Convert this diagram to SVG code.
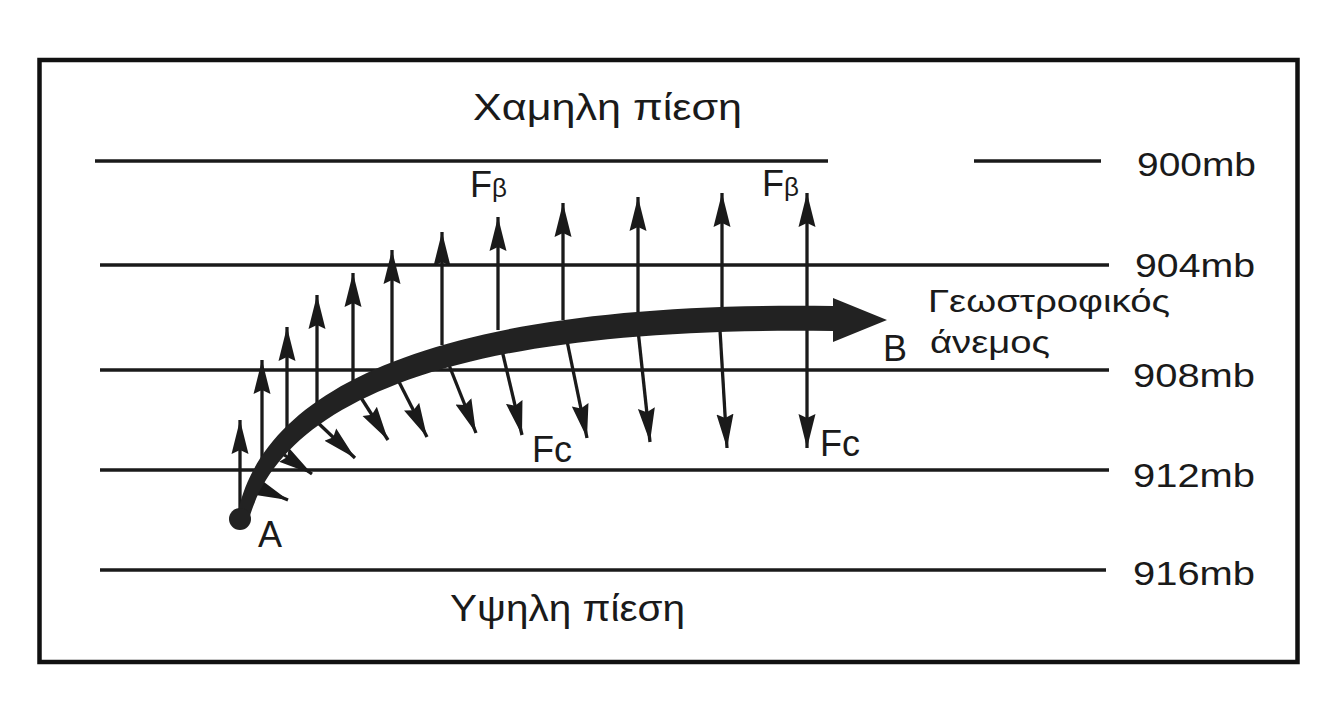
<svg xmlns="http://www.w3.org/2000/svg" width="1323" height="701" viewBox="0 0 1323 701">
<style>
text{font-family:"Liberation Sans",Arial,sans-serif;fill:#1a1a1a}
.iso{stroke:#1a1a1a;stroke-width:3.5;fill:none}
.f{stroke:#1a1a1a;stroke-width:3.3;fill:none;marker-end:url(#ah)}
.lbl{font-size:34px}
.big{font-size:36px}
</style>
<defs>
<marker id="ah" markerUnits="userSpaceOnUse" markerWidth="38" markerHeight="20" refX="34" refY="9" orient="auto">
<path d="M0,0.5 L34,9 L0,17.5 L4,9 z" fill="#1a1a1a"/>
</marker>
</defs>
<rect x="0" y="0" width="1323" height="701" fill="#ffffff"/>
<rect id="frame" x="39.5" y="60" width="1258" height="602" fill="none" stroke="#111" stroke-width="4.5"/>

<g id="isobars">
<line class="iso" x1="95" y1="161" x2="828" y2="161"/>
<line class="iso" x1="974" y1="161" x2="1101" y2="161"/>
<line class="iso" x1="100" y1="265" x2="1109" y2="265"/>
<line class="iso" x1="100" y1="370" x2="1109" y2="370"/>
<line class="iso" x1="100" y1="470" x2="1109" y2="470"/>
<line class="iso" x1="100" y1="570" x2="1106" y2="570"/>
</g>

<g id="isobar-labels">
<text class="lbl" x="1137" y="176" textLength="119" lengthAdjust="spacingAndGlyphs">900mb</text>
<text class="lbl" x="1135" y="277" textLength="120" lengthAdjust="spacingAndGlyphs">904mb</text>
<text class="lbl" x="1133" y="387" textLength="122" lengthAdjust="spacingAndGlyphs">908mb</text>
<text class="lbl" x="1133" y="487" textLength="122" lengthAdjust="spacingAndGlyphs">912mb</text>
<text class="lbl" x="1133" y="585" textLength="122" lengthAdjust="spacingAndGlyphs">916mb</text>
</g>

<g id="low-pressure"><text class="big" x="473" y="120" textLength="269" lengthAdjust="spacingAndGlyphs">Χαμηλη πίεση</text></g>
<g id="high-pressure"><text class="big" x="450" y="621" textLength="235" lengthAdjust="spacingAndGlyphs">Υψηλη πίεση</text></g>

<g id="connectors">
<!-- pressure gradient force arrows (upward) -->
<line class="f" x1="240" y1="510" x2="240" y2="420"/>
<line class="f" x1="262" y1="470" x2="262" y2="360"/>
<line class="f" x1="287" y1="434" x2="287" y2="327"/>
<line class="f" x1="317" y1="408" x2="317" y2="295"/>
<line class="f" x1="353" y1="383" x2="353" y2="273"/>
<line class="f" x1="392" y1="365" x2="392" y2="250"/>
<line class="f" x1="442" y1="345" x2="442" y2="232"/>
<line class="f" x1="498" y1="330" x2="498" y2="217"/>
<line class="f" x1="563" y1="320" x2="563" y2="203"/>
<line class="f" x1="638" y1="313" x2="638" y2="197"/>
<line class="f" x1="722" y1="308" x2="722" y2="193"/>
<line class="f" x1="807" y1="308" x2="807" y2="193"/>
<!-- Coriolis force arrows (downward) -->
<line class="f" x1="250" y1="484" x2="288" y2="500"/>
<line class="f" x1="280" y1="452" x2="312" y2="474"/>
<line class="f" x1="315" y1="420" x2="355" y2="458"/>
<line class="f" x1="358" y1="393" x2="388" y2="440"/>
<line class="f" x1="396" y1="376" x2="427" y2="437"/>
<line class="f" x1="447" y1="360" x2="476" y2="433"/>
<line class="f" x1="501" y1="346" x2="522" y2="435"/>
<line class="f" x1="566" y1="336" x2="587" y2="438"/>
<line class="f" x1="638" y1="330" x2="650" y2="442"/>
<line class="f" x1="720" y1="330" x2="727" y2="448"/>
<line class="f" x1="807" y1="330" x2="807" y2="448"/>
<!-- geostrophic wind -->
<path id="wind" d="M238,512 C263,393 425,300 833,306 L833,298 L887,320 L833,342 L833,331 C437,325 280,409 249,519 Z" fill="#222"/>
</g>

<g id="pointA">
<circle cx="240" cy="519" r="11" fill="#222"/>
<text class="big" x="258" y="547">A</text>
</g>
<g id="pointB"><text class="big" x="883" y="361">B</text></g>

<g id="label-Fb1"><text class="big" x="470" y="197">F<tspan font-size="26">β</tspan></text></g>
<g id="label-Fb2"><text class="big" x="762" y="196">F<tspan font-size="26">β</tspan></text></g>
<g id="label-Fc1"><text class="big" x="532" y="462">Fc</text></g>
<g id="label-Fc2"><text class="big" x="820" y="456">Fc</text></g>

<g id="wind-label">
<text x="928" y="312" font-size="32" textLength="242" lengthAdjust="spacingAndGlyphs">Γεωστροφικός</text>
<text x="930" y="353" font-size="32" textLength="120" lengthAdjust="spacingAndGlyphs">άνεμος</text>
</g>
</svg>
